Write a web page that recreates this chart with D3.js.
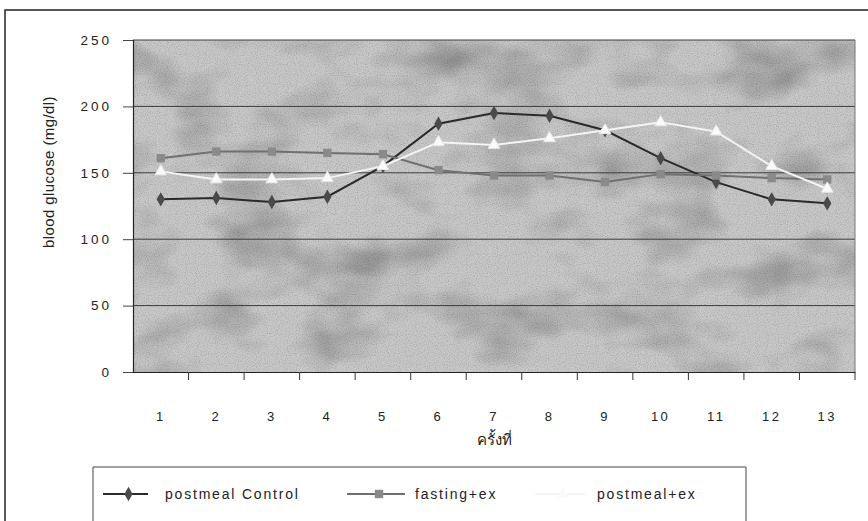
<!DOCTYPE html>
<html>
<head>
<meta charset="utf-8">
<script src="https://cdn.jsdelivr.net/npm/d3@7"></script>
<style>
  body { margin: 0; background: #fff; }
  svg { display: block; font-family: "Liberation Sans", Arial, sans-serif; }
</style>
</head>
<body>
<svg id="chart" width="868" height="521"></svg>
<script>
// data
const categories = ["1","2","3","4","5","6","7","8","9","10","11","12","13"];
const postmealControl = [130, 131, 128, 132, 155, 187, 195, 193, 182, 161, 143, 130, 127];
const fastingEx = [161, 166, 166, 165, 164, 152, 148, 148, 143, 149, 148, 146, 145];
const postmealEx = [151, 145, 145, 146, 155, 173, 171, 176, 182, 188, 181, 155, 138];
const yTicks = [0, 50, 100, 150, 200, 250];

const series = [
    {name: "postmeal Control", values: postmealControl, line: "#2a2a2a", fill: "#4a4a4a", symbol: d3.symbolDiamond, size: 60},
    {name: "fasting+ex", values: fastingEx, line: "#707070", fill: "#8a8a8a", symbol: d3.symbolSquare, size: 70},
    {name: "postmeal+ex", values: postmealEx, line: "#f4f4f4", fill: "#fafafa", symbol: d3.symbolTriangle, size: 60}
];

const svg = d3.select("#chart");
const margin = {top: 40, left: 133, right: 13, bottom: 149};
const width = 868 - margin.left - margin.right;
const height = 521 - margin.top - margin.bottom;

// mottled scan-like background
const defs = svg.append("defs");
const filt = defs.append("filter").attr("id", "mottle").attr("x", 0).attr("y", 0).attr("width", 1).attr("height", 1);
filt.append("feTurbulence").attr("type", "fractalNoise").attr("baseFrequency", "0.012 0.02").attr("numOctaves", 3).attr("seed", 7).attr("result", "n");
filt.append("feColorMatrix").attr("in", "n").attr("type", "matrix")
    .attr("values", "0 0 0 0 0  0 0 0 0 0  0 0 0 0 0  0 0 0 -1.1 0.62").attr("result", "shade");
filt.append("feTurbulence").attr("type", "fractalNoise").attr("baseFrequency", "0.9").attr("numOctaves", 1).attr("seed", 3).attr("result", "g");
filt.append("feColorMatrix").attr("in", "g").attr("type", "matrix")
    .attr("values", "0 0 0 0 0  0 0 0 0 0  0 0 0 0 0  0 0 0 -0.9 0.5").attr("result", "grain");
filt.append("feComposite").attr("in", "grain").attr("in2", "shade").attr("operator", "over").attr("result", "both");
filt.append("feComposite").attr("in", "both").attr("in2", "SourceGraphic").attr("operator", "over");

// outer frame
svg.append("path")
    .attr("d", "M5,521 L5,10 L868,10")
    .attr("fill", "none").attr("stroke", "#222").attr("stroke-width", 1.5);

const g = svg.append("g").attr("transform", `translate(${margin.left},${margin.top})`);

const x = d3.scaleBand().domain(categories).range([0, width]);
const y = d3.scaleLinear().domain([0, 250]).range([height, 0]);

g.append("rect")
    .attr("width", width).attr("height", height)
    .attr("fill", "#c8c8c8")
    .attr("filter", "url(#mottle)");

// gridlines
g.selectAll(".grid")
    .data(yTicks.filter(t => t > 0))
    .join("line")
    .attr("class", "grid")
    .attr("x1", 0).attr("x2", width)
    .attr("y1", d => y(d)).attr("y2", d => y(d))
    .attr("stroke", "#3c3c3c").attr("stroke-width", 1);

// right edge of plot
g.append("line").attr("x1", width).attr("x2", width).attr("y1", 0).attr("y2", height)
    .attr("stroke", "#777").attr("stroke-width", 1);

// y axis
const yAxis = g.append("g")
    .call(d3.axisLeft(y).tickValues(yTicks).tickSize(10).tickPadding(11).tickFormat(d3.format("d")));
yAxis.select(".domain").attr("stroke", "#222").attr("stroke-width", 1.2);
yAxis.selectAll(".tick line").attr("stroke", "#444");
yAxis.selectAll("text").attr("font-size", 13.5).attr("letter-spacing", 3).attr("fill", "#222");

// x axis with ticks between categories
const xAxis = g.append("g").attr("transform", `translate(0,${height})`)
    .call(d3.axisBottom(x).tickSize(0).tickPadding(40));
xAxis.select(".domain").attr("stroke", "#222").attr("stroke-width", 1.2);
xAxis.selectAll("text").attr("font-size", 13).attr("letter-spacing", 2.5).attr("fill", "#222");
xAxis.selectAll(".sep")
    .data(d3.range(1, categories.length + 1))
    .join("line")
    .attr("class", "sep")
    .attr("x1", i => i * x.step()).attr("x2", i => i * x.step())
    .attr("y1", 0).attr("y2", 8)
    .attr("stroke", "#333");

// axis titles
g.append("text")
    .attr("x", width / 2).attr("y", height + 73)
    .attr("text-anchor", "middle")
    .attr("font-family", "'Noto Sans', 'DejaVu Sans', sans-serif")
    .attr("font-size", 15).attr("fill", "#222")
    .text("ครั้งที่");

g.append("text")
    .attr("transform", `translate(-79,${height / 2 - 34}) rotate(-90)`)
    .attr("text-anchor", "middle")
    .attr("font-size", 15).attr("fill", "#222")
    .attr("letter-spacing", 0.4)
    .text("blood glucose (mg/dl)");

// series
const cx = i => x(categories[i]) + x.bandwidth() / 2;
const line = d3.line().x((d, i) => cx(i)).y(d => y(d));

series.forEach(s => {
    g.append("path")
        .datum(s.values)
        .attr("d", line)
        .attr("fill", "none")
        .attr("stroke", s.line)
        .attr("stroke-width", 2);
    g.selectAll(null)
        .data(s.values)
        .join("path")
        .attr("transform", (d, i) => `translate(${cx(i)},${y(d)})`)
        .attr("d", d3.symbol().type(s.symbol).size(s.size))
        .attr("fill", s.fill)
        .attr("stroke", s.fill === "#fafafa" ? "#e8e8e8" : "none");
});

// legend
const legend = svg.append("g");
legend.append("path")
    .attr("d", "M93,521 L93,467 L746,467 L746,521")
    .attr("fill", "none").attr("stroke", "#444").attr("stroke-width", 1);

const legendPos = [{lx: 103, tx: 165, len: 45}, {lx: 347, tx: 415, len: 58}, {lx: 535, tx: 597, len: 50}];
series.forEach((s, i) => {
    const p = legendPos[i];
    const ly = 494;
    legend.append("line")
        .attr("x1", p.lx).attr("x2", p.lx + p.len)
        .attr("y1", ly).attr("y2", ly)
        .attr("stroke", s.line).attr("stroke-width", 2);
    legend.append("path")
        .attr("transform", `translate(${p.lx + p.len / 2 + 3},${ly})`)
        .attr("d", d3.symbol().type(s.symbol).size(s.size))
        .attr("fill", s.fill);
    legend.append("text")
        .attr("x", p.tx).attr("y", ly + 5)
        .attr("font-size", 14).attr("letter-spacing", 1.8).attr("fill", "#222")
        .text(s.name);
});
</script>
</body>
</html>
